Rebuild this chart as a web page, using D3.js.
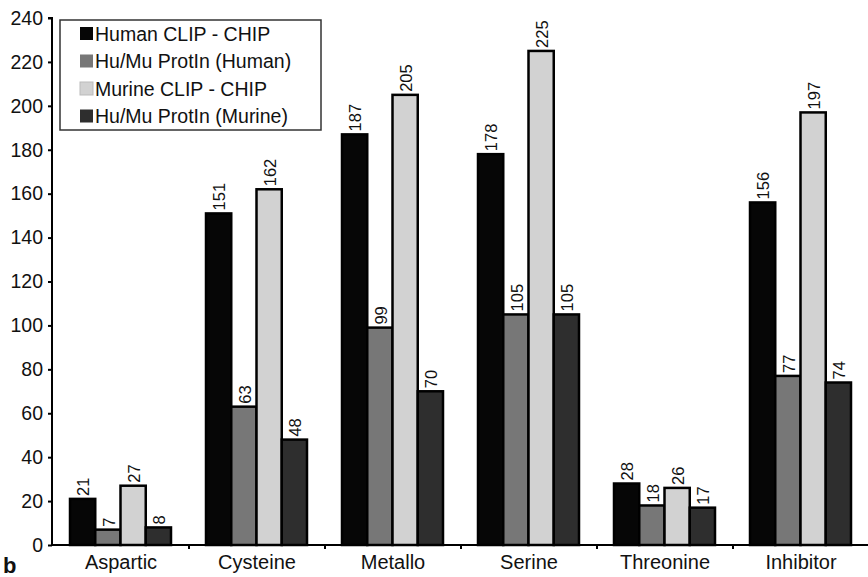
<!DOCTYPE html>
<html><head><meta charset="utf-8">
<script src="https://cdn.jsdelivr.net/npm/d3@7"></script>
<style>body{margin:0;background:#fff}svg{display:block}</style>
</head><body>
<script>
const categories = ["Aspartic","Cysteine","Metallo","Serine","Threonine","Inhibitor"];
const seriesNames = ["Human CLIP - CHIP","Hu/Mu ProtIn (Human)","Murine CLIP - CHIP","Hu/Mu ProtIn (Murine)"];
const humanClip = [21,151,187,178,28,156];
const protInHuman = [7,63,99,105,18,77];
const murineClip = [27,162,205,225,26,197];
const protInMurine = [8,48,70,105,17,74];
const yTicks = [0,20,40,60,80,100,120,140,160,180,200,220,240];
const colors = ["#060606","#777777","#d2d2d2","#2e2e2e"];
const series = [humanClip, protInHuman, murineClip, protInMurine];

const W=868,H=577;
const svg=d3.select("body").append("svg").attr("width",W).attr("height",H);
const font="Liberation Sans, Arial, Helvetica, sans-serif";
const x0=d3.scaleBand().domain(categories).range([53,869]);
const x1=d3.scaleBand().domain(d3.range(4)).range([17,x0.bandwidth()-18]);
const y=d3.scaleLinear().domain([0,240]).range([545,18]);

// y axis
const ya=svg.append("g").attr("transform","translate(52,0)")
  .call(d3.axisLeft(y).tickValues(yTicks).tickSize(4).tickPadding(5));
ya.select(".domain").attr("stroke","#000").attr("stroke-width",2).attr("d","M-4,18H0V545");
ya.selectAll(".tick line").attr("stroke","#000").attr("stroke-width",2);
ya.selectAll("text").attr("font-family",font).attr("font-size",19.5).attr("fill","#111");

// bars
const g=svg.append("g");
categories.forEach((c,i)=>{
  series.forEach((s,j)=>{
    const v=s[i];
    const bx=x0(c)+x1(j), bw=x1.bandwidth();
    g.append("rect").attr("x",bx).attr("y",y(v)).attr("width",bw).attr("height",y(0)-y(v))
      .attr("fill",colors[j]).attr("stroke","#000").attr("stroke-width",2.5);
  });
});
// labels
categories.forEach((c,i)=>{
  series.forEach((s,j)=>{
    const v=s[i];
    const cx=x0(c)+x1(j)+x1.bandwidth()/2;
    const lg=svg.append("g").attr("transform",`translate(${cx+1},${y(v)-3}) rotate(-90)`);
    const t=lg.append("text").attr("x",0).attr("y",0).attr("dy","0.35em")
      .attr("font-family",font).attr("font-size",16.5).attr("fill","#111").text(v);
    const bb=t.node().getBBox();
    lg.insert("rect","text").attr("x",bb.x-1).attr("y",bb.y).attr("width",bb.width+2).attr("height",bb.height).attr("fill","#fff");
  });
});

// x axis
const xa=svg.append("g").attr("transform","translate(0,545)")
  .call(d3.axisBottom(x0).tickSize(0).tickPadding(10));
xa.select(".domain").attr("stroke","#000").attr("stroke-width",2).attr("d","M52,0H868");
xa.selectAll("text").attr("font-family",font).attr("font-size",20).attr("fill","#111");
x0.domain().slice(1).forEach(c=>{
  svg.append("line").attr("x1",x0(c)).attr("x2",x0(c)).attr("y1",545).attr("y2",549).attr("stroke","#000").attr("stroke-width",2);
});

// legend
const leg=svg.append("g");
leg.append("rect").attr("x",60).attr("y",20).attr("width",261).attr("height",110).attr("fill","#fff").attr("stroke","#333").attr("stroke-width",1.5);
seriesNames.forEach((n,j)=>{
  const cy=33+j*27.5;
  leg.append("rect").attr("x",80).attr("y",cy-6).attr("width",13).attr("height",13).attr("fill",colors[j]).attr("stroke",j==2?"#bbb":"none");
  leg.append("text").attr("x",95).attr("y",cy+1).attr("dy","0.35em").attr("font-family",font).attr("font-size",19.5).attr("fill","#111").text(n);
});

svg.append("text").attr("x",3).attr("y",573).attr("font-family",font).attr("font-size",22).attr("font-weight","bold").attr("fill","#111").text("b");
</script>
</body></html>
